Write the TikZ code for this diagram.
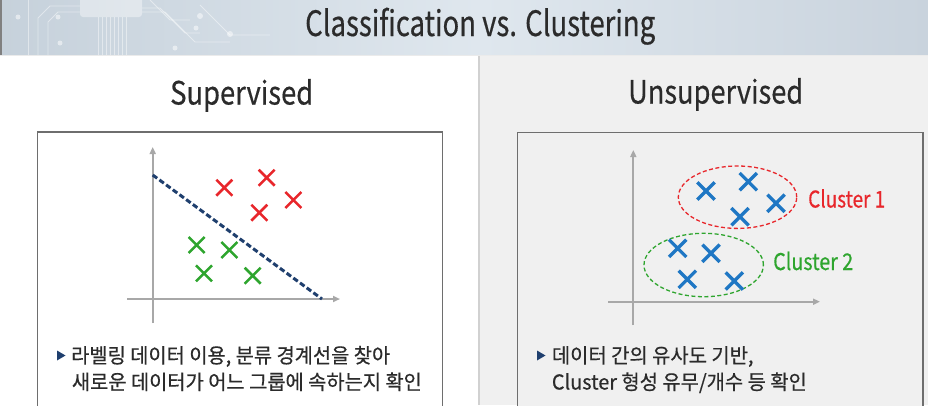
\documentclass[tikz,border=0pt]{standalone}
\usepackage{fontspec}
\usepackage{graphicx}
\setmainfont{Noto Sans CJK KR}[FakeBold=0.5]
\usetikzlibrary{arrows.meta,shapes.misc}
\definecolor{navy}{HTML}{1F3F6E}
\definecolor{xred}{HTML}{E8262B}
\definecolor{xgreen}{HTML}{2EA52E}
\definecolor{xblue}{HTML}{1F77C4}
\definecolor{axisgray}{HTML}{A8A8A8}
\definecolor{boxgray}{HTML}{6E6E6E}
\definecolor{panelgray}{HTML}{F0F0F0}
\definecolor{txt}{HTML}{2B2B2B}
\definecolor{bandL}{HTML}{C6D1DB}
\definecolor{bandM}{HTML}{DFE7EE}
\definecolor{bandR}{HTML}{C9D3DD}
\newcommand\fitw[2]{\resizebox{#1}{\height}{#2}}
\tikzset{
  xmark/.style={cross out, draw, inner sep=0pt, minimum size=13.5pt, line width=2.5pt},
  bmark/.style={xmark, draw=xblue, minimum size=14pt, line width=3.3pt},
  axisline/.style={draw=axisgray, line width=2pt, -{Triangle[length=7pt,width=6pt]}},
  panelbox/.style={draw=boxgray, line width=1.4pt},
  heading/.style={font=\fontsize{32}{36}\selectfont, text=txt, inner sep=0pt, anchor=base west},
  bullettext/.style={font=\fontsize{20.5}{24}\selectfont, text=txt, inner sep=0pt, anchor=base west},
  bulletmark/.style={fill=navy},
  clusterlabel/.style={font=\fontsize{23}{26}\selectfont, inner sep=0pt, anchor=base west},
  ring/.style={line width=1.3pt, dash pattern=on 4pt off 2.5pt},
  circuit/.style={draw=white, opacity=0.45, line width=0.8pt}
}
\begin{document}
\begin{tikzpicture}[x=1pt,y=-1pt]
\useasboundingbox (0,0) rectangle (928,405);
% title band
\shade[left color=bandL, right color=bandM] (0,0) rectangle (480,55);
\shade[left color=bandM, right color=bandR] (480,0) rectangle (928,55);
% faint circuit decoration
\fill[white, opacity=0.4, rounded corners=3pt] (80,-3) rectangle (142,17);
\foreach \xx in {98,102,106,110,114,118,122,126}
  \draw[circuit] (\xx,17) -- (\xx,55);
\draw[circuit] (142,8) -- (160,8) -- (185,33) -- (200,33);
\draw[circuit] (142,12) -- (165,12) -- (195,42) -- (230,42);
\draw[circuit] (80,6) -- (50,6) -- (38,18) -- (38,55);
\draw[circuit] (80,12) -- (58,12) -- (48,22) -- (48,55);
\draw[circuit] (28,0) -- (28,55);
\draw[circuit] (150,0) -- (170,20) -- (190,20);
\draw[circuit] (200,5) -- (230,35) -- (270,35);
\fill[white, opacity=0.5] (58,17) circle (2.5pt) (18,17) circle (2.5pt) (200,16) circle (3pt)
  (230,34) circle (3pt) (196,28) circle (2.5pt) (60,43) circle (2.5pt) (175,48) circle (2.5pt);
\draw[gray, line width=1.5pt] (0.75,0) -- (0.75,55);
% panels
\fill[white] (0,55) rectangle (478,405);
\fill[panelgray] (480,55) rectangle (928,405);
\fill[black!18] (478,55) rectangle (480,405);
\draw[black!8, line width=0.6pt] (0,55.3) -- (928,55.3);
% title and headings
\node[font=\fontsize{35}{38}\selectfont, text=txt, inner sep=0pt, anchor=base west] (title) at (305,36) {\fitw{350pt}{Classification vs. Clustering}};
\node[heading] (sup) at (170,104.5) {\fitw{143pt}{Supervised}};
\node[heading] (unsup) at (628,103.5) {\fitw{175pt}{Unsupervised}};
% boxes
\draw[panelbox, fill=white] (37.5,132) -- (37.5,410) -- (442.5,410) -- (442.5,132) -- cycle;
\draw[panelbox, fill=panelgray] (517.5,132.5) -- (517.5,410) -- (923,410) -- (923,132.5) -- cycle;
% ---- left chart
\coordinate (lyb) at (152.7,323);
\coordinate (lyt) at (152.7,147);
\coordinate (lxl) at (127,299);
\coordinate (lxr) at (340,299);
\draw[axisline] (lyb) -- (lyt);
\draw[axisline] (lxl) -- (lxr);
\coordinate (bs) at (152.7,175);
\coordinate (be) at (322,299);
\draw[navy, line width=3pt, dash pattern=on 5.5pt off 2.8pt] (bs) -- (be);
\node[xmark, draw=xred] (r1) at (224.3,187.7) {};
\node[xmark, draw=xred] (r2) at (266.7,177.7) {};
\node[xmark, draw=xred] (r3) at (293.3,200) {};
\node[xmark, draw=xred] (r4) at (259.3,212.7) {};
\node[xmark, draw=xgreen] (g1) at (196.7,245) {};
\node[xmark, draw=xgreen] (g2) at (229.3,250) {};
\node[xmark, draw=xgreen] (g3) at (204,273.3) {};
\node[xmark, draw=xgreen] (g4) at (252.7,275.7) {};
% left bullet
\fill[bulletmark] (57,350.5) -- (65.5,355.5) -- (57,360.5) -- cycle;
\node[bullettext] (lt1) at (71,363) {\fitw{319pt}{라벨링 데이터 이용, 분류 경계선을 찾아}};
\node[bullettext] (lt2) at (71.7,389.5) {\fitw{350pt}{새로운 데이터가 어느 그룹에 속하는지 확인}};
% ---- right chart
\coordinate (ryb) at (633.3,325);
\coordinate (ryt) at (633.3,150);
\coordinate (rxl) at (608,301.7);
\coordinate (rxr) at (820,301.7);
\draw[axisline] (ryb) -- (ryt);
\draw[axisline] (rxl) -- (rxr);
\coordinate (c1) at (737.5,197.2);
\draw[xred, ring] (c1) ellipse [x radius=59.2pt, y radius=31.2pt];
\coordinate (c2) at (703.7,265);
\draw[xgreen, ring] (c2) ellipse [x radius=59.7pt, y radius=31.7pt];
\node[bmark] (b1) at (706,191) {};
\node[bmark] (b2) at (748.3,181.7) {};
\node[bmark] (b3) at (776,203.3) {};
\node[bmark] (b4) at (740,216.7) {};
\node[bmark] (b5) at (677.7,248.3) {};
\node[bmark] (b6) at (711,253.3) {};
\node[bmark] (b7) at (687.3,279.3) {};
\node[bmark] (b8) at (734.3,281) {};
\node[clusterlabel, text=xred] (lab1) at (808,207.5) {\fitw{77pt}{Cluster 1}};
\node[clusterlabel, text=xgreen] (lab2) at (773,270) {\fitw{80pt}{Cluster 2}};
% right bullet
\fill[bulletmark] (537,350.5) -- (545.5,355.5) -- (537,360.5) -- cycle;
\node[bullettext] (rt1) at (551.7,363) {\fitw{201.6pt}{데이터 간의 유사도 기반,}};
\node[bullettext] (rt2) at (551.7,389.5) {\fitw{255pt}{Cluster 형성 유무/개수 등 확인}};
\end{tikzpicture}
\end{document}
